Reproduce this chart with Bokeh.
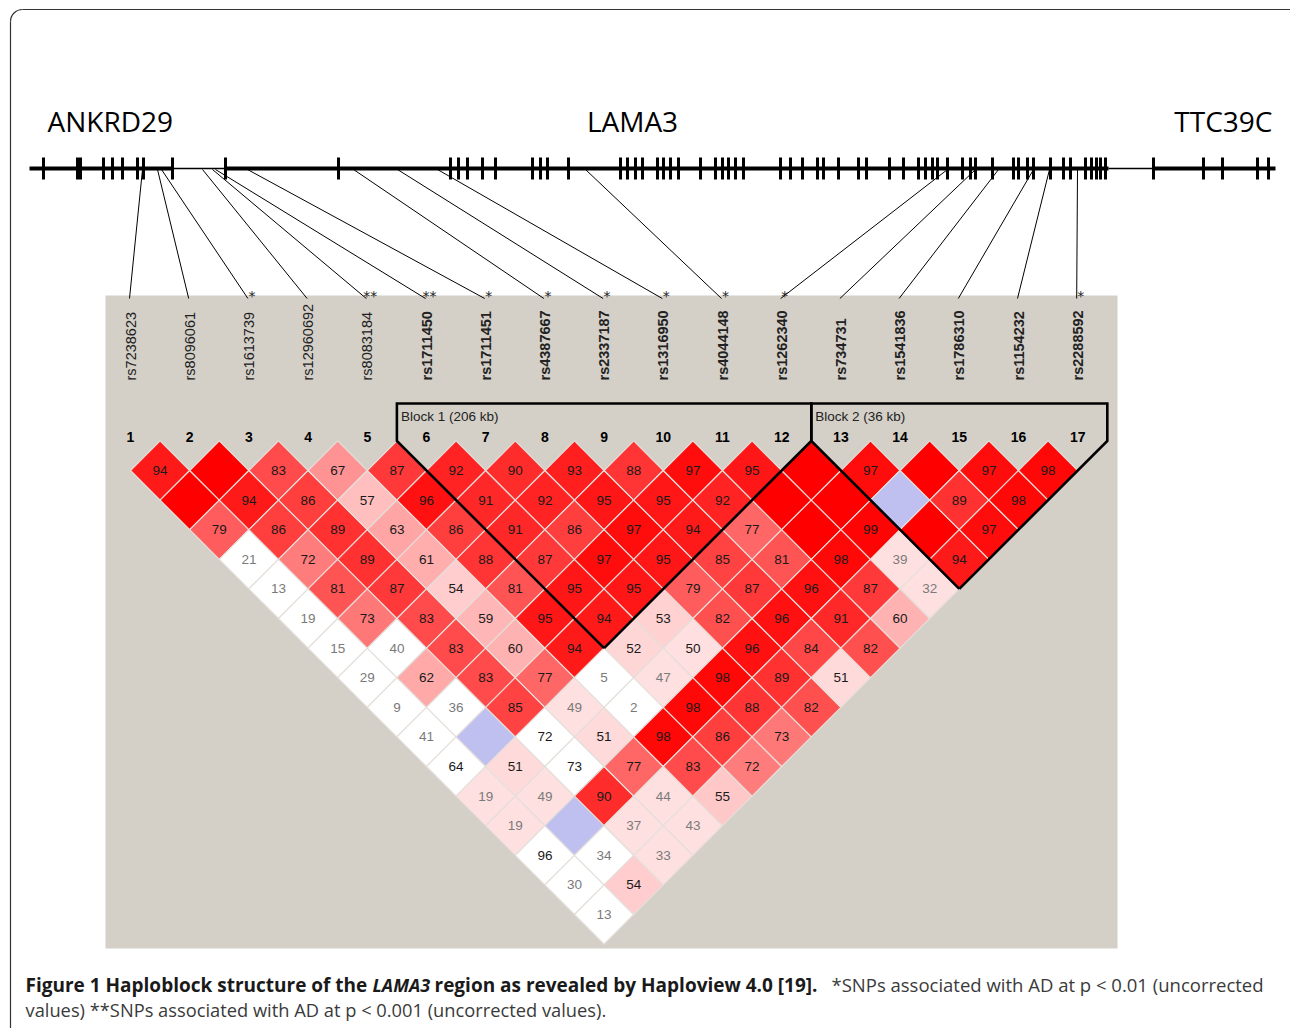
import numpy as np
from bokeh.plotting import figure
from bokeh.models import Range1d, ColumnDataSource
from bokeh.embed import file_html
from bokeh.resources import INLINE
from bokeh.core.properties import value

# ---------------- data ----------------
snp_ids = ["rs7238623", "rs8096061", "rs1613739", "rs12960692", "rs8083184",
           "rs1711450", "rs1711451", "rs4387667", "rs2337187", "rs1316950",
           "rs4044148", "rs1262340", "rs734731", "rs1541836", "rs1786310",
           "rs1154232", "rs2288592"]
snp_assoc = ["", "", "*", "", "**", "**", "*", "*", "*", "*", "*", "*",
             "", "", "", "", "*"]
# position of each SNP on the gene track (track pixels)
snp_track_pos = [142, 157, 161, 202, 212, 215, 247, 353, 397, 437, 585,
                 947, 975, 998, 1033, 1049, 1077]

# D' x100 for SNP i against SNPs i+1..17 (100 = D' of 1, drawn without number)
dprime_rows = [
    [94, 100, 79, 21, 13, 19, 15, 29, 9, 41, 64, 19, 19, 96, 30, 13],
    [100, 94, 86, 72, 81, 73, 40, 62, 36, 100, 51, 49, 100, 34, 54],
    [83, 86, 89, 89, 87, 83, 83, 83, 85, 72, 73, 90, 37, 33],
    [67, 57, 63, 61, 54, 59, 60, 77, 49, 51, 77, 44, 43],
    [87, 96, 86, 88, 81, 95, 94, 5, 2, 98, 83, 55],
    [92, 91, 91, 87, 95, 94, 52, 47, 98, 86, 72],
    [90, 92, 86, 97, 95, 53, 50, 98, 88, 73],
    [93, 95, 97, 95, 79, 82, 96, 89, 82],
    [88, 95, 94, 85, 87, 96, 84, 51],
    [97, 92, 77, 81, 96, 91, 82],
    [95, 100, 100, 98, 87, 60],
    [100, 100, 99, 39, 32],
    [97, 100, 100, 94],
    [100, 89, 97],
    [97, 98],
    [98],
]
# pairs with LOD < 2
low_lod_pairs = [(1, 5), (1, 6), (1, 7), (1, 8), (1, 9), (1, 10), (1, 11), (1, 12),
                 (1, 15), (1, 16), (1, 17), (2, 9), (2, 11), (2, 12), (2, 15),
                 (2, 16), (3, 13), (3, 14), (5, 13), (5, 14), (13, 15)]

blocks = [("Block 1 (206 kb)", 6, 12), ("Block 2 (36 kb)", 13, 17)]

gene_names = ["ANKRD29", "LAMA3", "TTC39C"]
gene_label_x = [47, 632, 1272]
gene_label_align = ["left", "center", "right"]

exon_x = [43, 77, 80, 103, 112, 122, 137, 143, 172, 225, 338,
          450, 458, 467, 482, 495, 532, 540, 547, 568,
          620, 627, 635, 642, 657, 663, 670, 678, 700, 715, 722, 728, 735, 743,
          780, 790, 802, 817, 823, 838, 858, 866, 889, 903, 918, 925, 932, 937,
          947, 962, 970, 975, 992, 1013, 1018, 1027, 1033, 1050, 1063, 1070,
          1085, 1091, 1096, 1100, 1105, 1153, 1203, 1222, 1257, 1268]
thick_segments = [(29, 172), (225, 1108), (1153, 1275)]
thin_segments = [(172, 225), (1108, 1153)]

# ---------------- layout ----------------
W, H = 1290, 1028
X0, DX = 130.0, 59.2
HALF = DX / 2
ROW0 = 470.0
TRACK_Y = 168
BOX = (105, 1117, 295, 948)


def sx(k):
    return X0 + (k - 1) * DX


def Y(py):
    return -py


p = figure(width=W, height=H, x_range=Range1d(0, W), y_range=Range1d(-H, 0),
           output_backend="svg", toolbar_location=None, min_border=0,
           x_axis_location=None, y_axis_location=None)
p.grid.visible = False
p.outline_line_color = None
p.background_fill_color = "white"
p.border_fill_color = "white"

# outer rounded frame
p.line([10, 10], [Y(21), Y(1028)], line_color="#333333", line_width=1.2)
p.line([22, 1290], [Y(9), Y(9)], line_color="#333333", line_width=1.2)
p.arc(x=22, y=Y(21), radius=12, start_angle=np.pi / 2, end_angle=np.pi,
      line_color="#333333", line_width=1.2)

# gene names
for name, gx, al in zip(gene_names, gene_label_x, gene_label_align):
    p.text(x=[gx], y=[Y(120)], text=[name], text_align=al, text_baseline="middle",
           text_font=value("Open Sans"), text_font_size="28px", text_color="black")

# gene track
for a, b in thick_segments:
    p.line([a, b], [Y(TRACK_Y), Y(TRACK_Y)], line_color="black", line_width=4)
for a, b in thin_segments:
    p.line([a, b], [Y(TRACK_Y), Y(TRACK_Y)], line_color="black", line_width=1.5)
p.segment(x0=exon_x, y0=[Y(157)] * len(exon_x), x1=exon_x, y1=[Y(179)] * len(exon_x),
          line_color="black", line_width=3)

# gray panel
p.quad(left=[BOX[0]], right=[BOX[1]], top=[Y(BOX[2])], bottom=[Y(BOX[3])],
       fill_color="#d4d0c8", line_color=None)

# connector lines
n = len(snp_ids)
snp_x = [sx(k + 1) for k in range(n)]
p.segment(x0=snp_track_pos, y0=[Y(TRACK_Y + 1)] * n, x1=[x - 1 for x in snp_x],
          y1=[Y(298)] * n, line_color="black", line_width=1)

# association stars
p.text(x=[x + 3 for x in snp_x], y=[Y(295)] * n, text=snp_assoc, text_align="center",
       text_baseline="middle", text_font=value("DejaVu Sans"),
       text_font_size="14px", text_color="#222222")

# SNP names (rotated), bold for SNPs inside blocks
in_block = [any(b[1] <= k + 1 <= b[2] for b in blocks) for k in range(n)]
src_norm = ColumnDataSource(dict(x=[x for x, b in zip(snp_x, in_block) if not b],
                                 t=[s for s, b in zip(snp_ids, in_block) if not b]))
src_bold = ColumnDataSource(dict(x=[x for x, b in zip(snp_x, in_block) if b],
                                 t=[s for s, b in zip(snp_ids, in_block) if b]))
for src, style in ((src_norm, "normal"), (src_bold, "bold")):
    p.text(x="x", y=Y(380), text="t", source=src, angle=np.pi / 2, text_align="left",
           text_baseline="middle", text_font=value("Liberation Sans"),
           text_font_size="14.5px", text_font_style=style, text_color="#222222")

# SNP numbers
p.text(x=snp_x, y=[Y(436)] * n, text=[str(k + 1) for k in range(n)], text_align="center",
       text_baseline="middle", text_font=value("Liberation Sans"), text_font_size="14px",
       text_font_style="bold", text_color="black")

# LD cells
cxs, cys, fills, labels, tcols = [], [], [], [], []
low = set(low_lod_pairs)
for i, row in enumerate(dprime_rows, start=1):
    for k, d in enumerate(row):
        j = i + 1 + k
        cx = (sx(i) + sx(j)) / 2
        cy = ROW0 + (j - i - 1) * HALF
        if (i, j) in low:
            col = "#c0c0f0" if d >= 100 else "#ffffff"
        else:
            if d < 50:
                col = "#ffe0e0"
            else:
                g = int(min(255, 446 * (1 - d / 100)))
                col = "#%02x%02x%02x" % (255, g, g)
        cxs.append(cx)
        cys.append(cy)
        fills.append(col)
        labels.append("" if d >= 100 else str(d))
        tcols.append("#7a7a7a" if d < 50 else "#1a1a1a")

cell_src = ColumnDataSource(dict(
    xs=[[cx - HALF, cx, cx + HALF, cx] for cx in cxs],
    ys=[[Y(cy), Y(cy - HALF), Y(cy), Y(cy + HALF)] for cy in cys],
    fill=fills))
p.patches(xs="xs", ys="ys", source=cell_src, fill_color="fill", line_color="#e4dfda",
          line_width=1.2)
lab_src = ColumnDataSource(dict(x=cxs, y=[Y(c) for c in cys], t=labels, c=tcols))
p.text(x="x", y="y", text="t", text_color="c", source=lab_src, text_align="center",
       text_baseline="middle", text_font=value("Liberation Sans"), text_font_size="13.5px")

# block outlines and labels
for name, a, b in blocks:
    left = sx(a) - HALF
    right = sx(b) + HALF
    top_row = ROW0 - HALF
    bx = (sx(a) + sx(b)) / 2
    by = ROW0 + (b - a - 1) * HALF + HALF
    p.line([bx, left, left, right, right, bx],
           [Y(by), Y(top_row), Y(403), Y(403), Y(top_row), Y(by)],
           line_color="black", line_width=2.6, line_join="miter")
    p.text(x=[left + 4], y=[Y(416)], text=[name], text_align="left", text_baseline="middle",
           text_font=value("Liberation Sans"), text_font_size="13.5px", text_color="#222222")

# caption
cap1 = [("Figure 1 Haploblock structure of the", 25, "bold", "19px"),
        ("LAMA3", 372, "bold italic", "18px"),
        ("region as revealed by Haploview 4.0 [19].", 434, "bold", "19px"),
        ("*SNPs associated with AD at p < 0.01 (uncorrected", 831, "normal", "18.5px")]
for t, x, st, fs in cap1:
    p.text(x=[x], y=[Y(984)], text=[t], text_align="left", text_baseline="middle",
           text_font=value("Open Sans"), text_font_size=fs, text_font_style=st,
           text_color="#1a1a1a" if st != "normal" else "#3a3a3a")
p.text(x=[25], y=[Y(1009)], text=["values) **SNPs associated with AD at p < 0.001 (uncorrected values)."],
       text_align="left", text_baseline="middle", text_font=value("Open Sans"),
       text_font_size="18.3px", text_color="#3a3a3a")

open("out.html", "w").write(file_html(p, INLINE))
